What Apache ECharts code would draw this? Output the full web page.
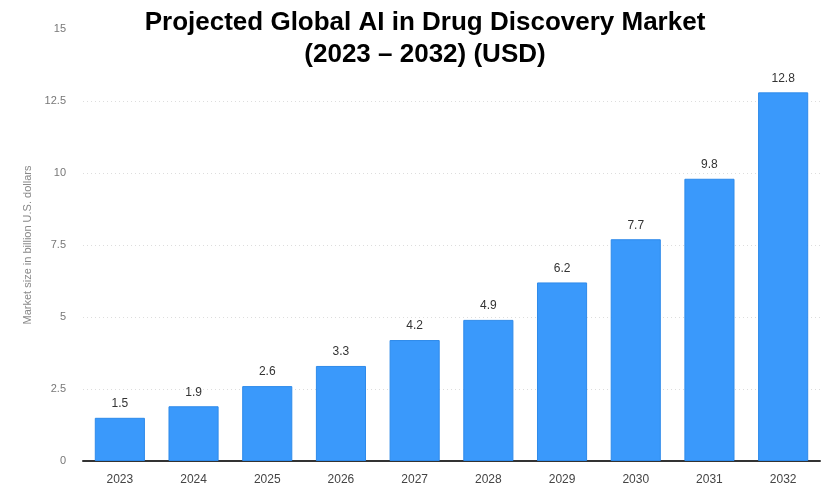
<!DOCTYPE html>
<html><head><meta charset="utf-8">
<script src="https://cdn.jsdelivr.net/npm/echarts@6/dist/echarts.min.js"></script>
<style>html,body{margin:0;padding:0;background:#fff}#c{width:823px;height:488px}</style>
</head><body><div id="c"></div>
<script>
const categories = ['2023','2024','2025','2026','2027','2028','2029','2030','2031','2032'];
const values = [1.5, 1.9, 2.6, 3.3, 4.2, 4.9, 6.2, 7.7, 9.8, 12.8];
const yTicks = [0, 2.5, 5, 7.5, 10, 12.5, 15];
const titleText = 'Projected Global AI in Drug Discovery Market\n(2023 – 2032) (USD)';
const yAxisName = 'Market size in billion U.S. dollars';

const chart = echarts.init(document.getElementById('c'), null, {renderer:'canvas'});
chart.setOption({
  animation: false,
  backgroundColor: '#fff',
  title: {
    text: titleText, left: 420, textAlign: 'center', top: 2,
    textStyle: {fontFamily: 'Liberation Sans, Arial, sans-serif', fontWeight: 'bold', fontSize: 26, color: '#000', lineHeight: 32}
  },
  grid: {left: 83, right: 3, top: 29, bottom: 27},
  xAxis: {
    type: 'category', data: categories,
    axisLine: {lineStyle: {color: '#333', width: 2}},
    axisTick: {show: false},
    axisLabel: {color: '#444', fontSize: 12, fontFamily: 'Liberation Sans, Arial, sans-serif', margin: 13}
  },
  yAxis: {
    type: 'value', min: yTicks[0], max: yTicks[yTicks.length-1], interval: 2.5,
    name: yAxisName, nameLocation: 'middle', nameGap: 50, nameRotate: 90,
    nameTextStyle: {color: '#888', fontSize: 11, fontFamily: 'Liberation Sans, Arial, sans-serif'},
    axisLine: {show: false}, axisTick: {show: false},
    axisLabel: {color: '#777', fontSize: 11, fontFamily: 'Liberation Sans, Arial, sans-serif', margin: 17},
    splitLine: {lineStyle: {color: ['#ddd','#ddd','#ddd','#ddd','#ddd','#ddd','rgba(0,0,0,0)'], type: [1,3], width: 1}}
  },
  series: [{
    type: 'bar', data: values, barWidth: '68%',
    itemStyle: {color: '#3a99fb', borderColor: '#2e8aea', borderWidth: 1},
    label: {show: true, position: 'top', distance: 8, color: '#333', fontSize: 12, fontFamily: 'Liberation Sans, Arial, sans-serif'}
  }]
});
</script></body></html>
